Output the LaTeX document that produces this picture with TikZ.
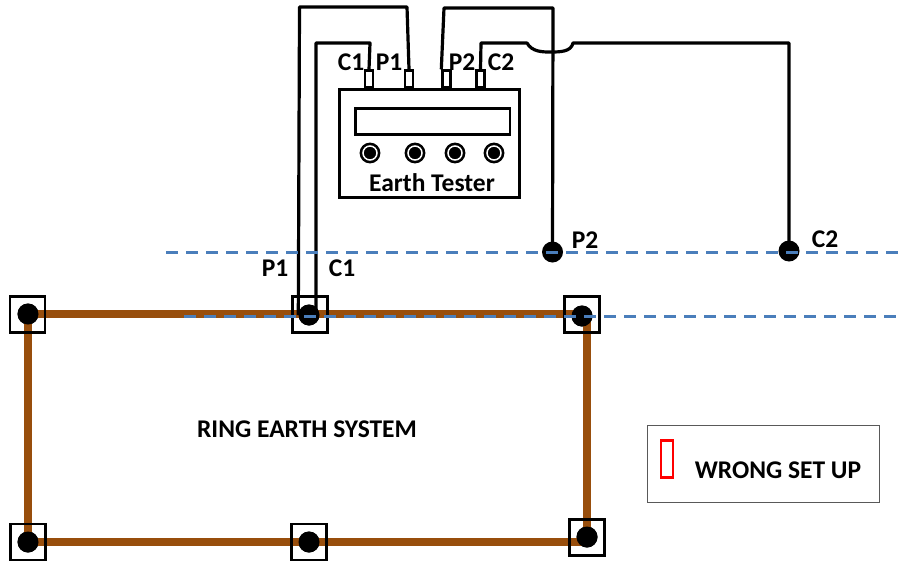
\documentclass[tikz,border=0pt]{standalone}
\usepackage{fontspec}
\setmainfont{Carlito}
\definecolor{ringbrown}{HTML}{984E0C}
\definecolor{dashblue}{HTML}{4A7EBB}

\begin{document}
\begin{tikzpicture}[
x=1pt, y=-1pt,
lbl/.style={inner sep=0, font=\fontsize{25.5}{28}\selectfont\bfseries},
tester/.style={rectangle, draw=black, line width=2.6pt, inner sep=0, anchor=north west},
pin/.style={rectangle, draw=black, line width=2.4pt, inner sep=0, minimum width=8pt, minimum height=17pt},
knob/.style={circle, draw=black, fill=black, double=white, double distance=1.5pt, line width=2.6pt, inner sep=0, minimum size=14pt},
pit/.style={rectangle, draw=black, line width=2.6pt, inner sep=0, minimum width=35pt, minimum height=36pt},
rod/.style={circle, fill=black, inner sep=0, minimum size=21pt},
wire/.style={draw, line width=3.2pt, line join=round},
ring/.style={draw=ringbrown, line width=7.5pt},
datum/.style={draw=dashblue, line width=3pt, dash pattern=on 12pt off 8pt}
]
\useasboundingbox (0,0) rectangle (901,562);

% tester
\node [tester, minimum width=180pt, minimum height=108pt] (tester-box) at (338,88) {};
\node [tester, minimum width=154.5pt, minimum height=26pt] (display) at (354,107) {};
\node [knob] (knob-a) at (370,153) {};
\node [knob] (knob-b) at (415,153) {};
\node [knob] (knob-c) at (455,153) {};
\node [knob] (knob-d) at (494,153) {};
\node [lbl] (tester-name) at (432,183) {Earth Tester};

\node [pin] (pin-c1) at (369,79) {};
\node [pin] (pin-p1) at (409,79) {};
\node [pin] (pin-p2) at (446.5,79) {};
\node [pin] (pin-c2) at (480.5,79) {};
\node [lbl] (lbl-c1) at (351,62) {C1};
\node [lbl] (lbl-p1) at (389,62) {P1};
\node [lbl] (lbl-p2) at (462,62) {P2};
\node [lbl] (lbl-c2) at (501,62) {C2};

% ring
\node [rod] (rod-tl) at (28,314) {};
\node [rod] (rod-tm) at (309,315) {};
\node [rod] (rod-tr) at (582,316) {};
\node [rod] (rod-bl) at (28,542) {};
\node [rod] (rod-bm) at (309,542) {};
\node [rod] (rod-br) at (587,537) {};
\path [ring] (rod-tl.center) -- (rod-tr.center |- rod-tl.center);
\path [ring] (rod-tl.center) -- (rod-bl.center);
\path [ring] (rod-br.center |- rod-tr.center) -- (rod-br.center);
\path [ring] (rod-bl.center) -- (rod-br.center |- rod-bl.center);
\node [pit] (pit-tl) at (27.5,314.5) {};
\node [pit] (pit-tm) at (310,314.5) {};
\node [pit] (pit-tr) at (582,314.5) {};
\node [pit] (pit-bl) at (28,542) {};
\node [pit] (pit-bm) at (309,542) {};
\node [pit] (pit-br) at (587,537.5) {};
\node [rod] at (rod-tl) {};
\node [rod] at (rod-tm) {};
\node [rod] at (rod-tr) {};
\node [rod] at (rod-bl) {};
\node [rod] at (rod-bm) {};
\node [rod] at (rod-br) {};
\node [lbl] (ring-name) at (307,429) {RING EARTH SYSTEM};

% probes
\node [rod] (probe-p2) at (552.5,252) {};
\node [rod] (probe-c2) at (789,251) {};
\node [lbl] (lbl-probe-p2) at (585,240) {P2};
\node [lbl] (lbl-probe-c2) at (825,239) {C2};
\node [lbl] (lbl-rod-p1) at (275,268) {P1};
\node [lbl] (lbl-rod-c1) at (342,268) {C1};

\path [wire] (pin-p1.north) -- (407,7) -- (299.5,7) -- (rod-tm.west);
\path [wire] (pin-c1.north) -- (370,43) -- (316,43) -- ([xshift=7pt]rod-tm.center);
\path [wire] (pin-p2.north west) -- (444,8) -- (553,8) -- (probe-p2.center);
\path [wire] (pin-c2.north) -- (481,43) -- (527,43)
.. controls (532,52) and (543,52) .. (550,52)
.. controls (560,52) and (571,52) .. (573,43) -- (789,43) -- (probe-c2.center);

% datum lines
\coordinate (datum-a) at (166,252);
\coordinate (datum-b) at (901,252);
\coordinate (datum-c) at (184,316);
\coordinate (datum-d) at (901,316);
\path [datum] (datum-a) -- (datum-b);
\path [datum] (datum-c) -- (datum-d);

% legend
\node [rectangle, draw=black!65, line width=1.4pt, inner sep=0, anchor=north west, minimum width=232pt, minimum height=77pt] (legend) at (647,425) {};
\node [rectangle, draw=red, line width=2.6pt, inner sep=0, minimum width=12pt, minimum height=37pt] (legend-mark) at (667,459) {};
\node [lbl] (legend-text) at (778,470) {WRONG SET UP};
\end{tikzpicture}
\end{document}
